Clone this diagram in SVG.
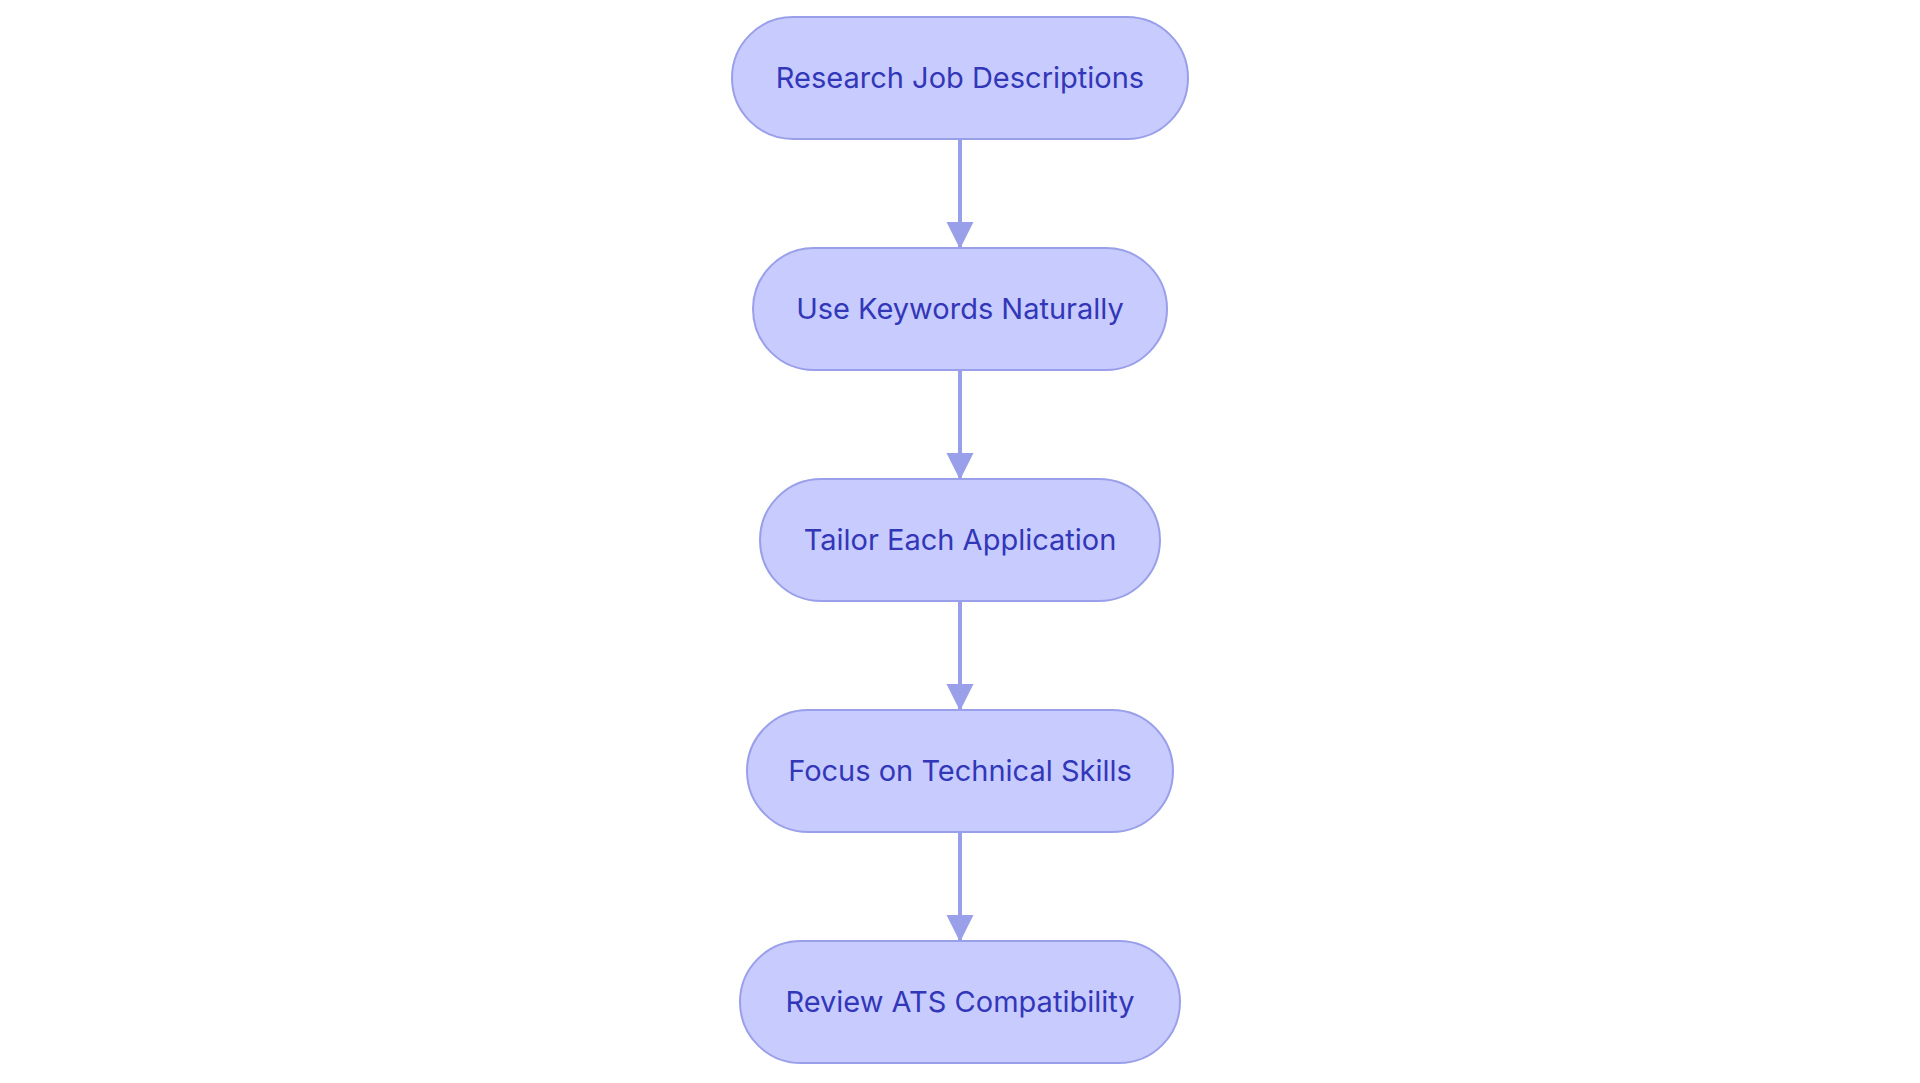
<svg xmlns="http://www.w3.org/2000/svg" width="1920" height="1083" viewBox="0 0 1920 1083">
<style>
.n rect{fill:#c8cbfe;stroke:#9a9fea;stroke-width:2}
.n text{font-family:Inter,"Liberation Sans",sans-serif;font-size:29px;fill:#3237b8;text-anchor:middle;dominant-baseline:central}
.e{stroke:#9a9fea;stroke-width:4;fill:none}
</style>
<defs><marker id="a" markerUnits="userSpaceOnUse" markerWidth="28" markerHeight="28" refX="26" refY="13.5" orient="auto"><path d="M0,0L27,13.5L0,27Z" fill="#9a9fea"/></marker></defs>
<rect width="1920" height="1083" fill="#fff"/>
<g id="edges">
<path class="e" d="M960,139V248" marker-end="url(#a)"/>
<path class="e" d="M960,370V479" marker-end="url(#a)"/>
<path class="e" d="M960,601V710" marker-end="url(#a)"/>
<path class="e" d="M960,832V941" marker-end="url(#a)"/>
</g>
<g id="n1" class="n"><rect x="732" y="17" width="456" height="122" rx="61"/><text x="960" y="77">Research Job Descriptions</text></g>
<g id="n2" class="n"><rect x="753" y="248" width="414" height="122" rx="61"/><text x="960" y="308">Use Keywords Naturally</text></g>
<g id="n3" class="n"><rect x="760" y="479" width="400" height="122" rx="61"/><text x="960" y="539">Tailor Each Application</text></g>
<g id="n4" class="n"><rect x="747" y="710" width="426" height="122" rx="61"/><text x="960" y="770">Focus on Technical Skills</text></g>
<g id="n5" class="n"><rect x="740" y="941" width="440" height="122" rx="61"/><text x="960" y="1001">Review ATS Compatibility</text></g>
</svg>
